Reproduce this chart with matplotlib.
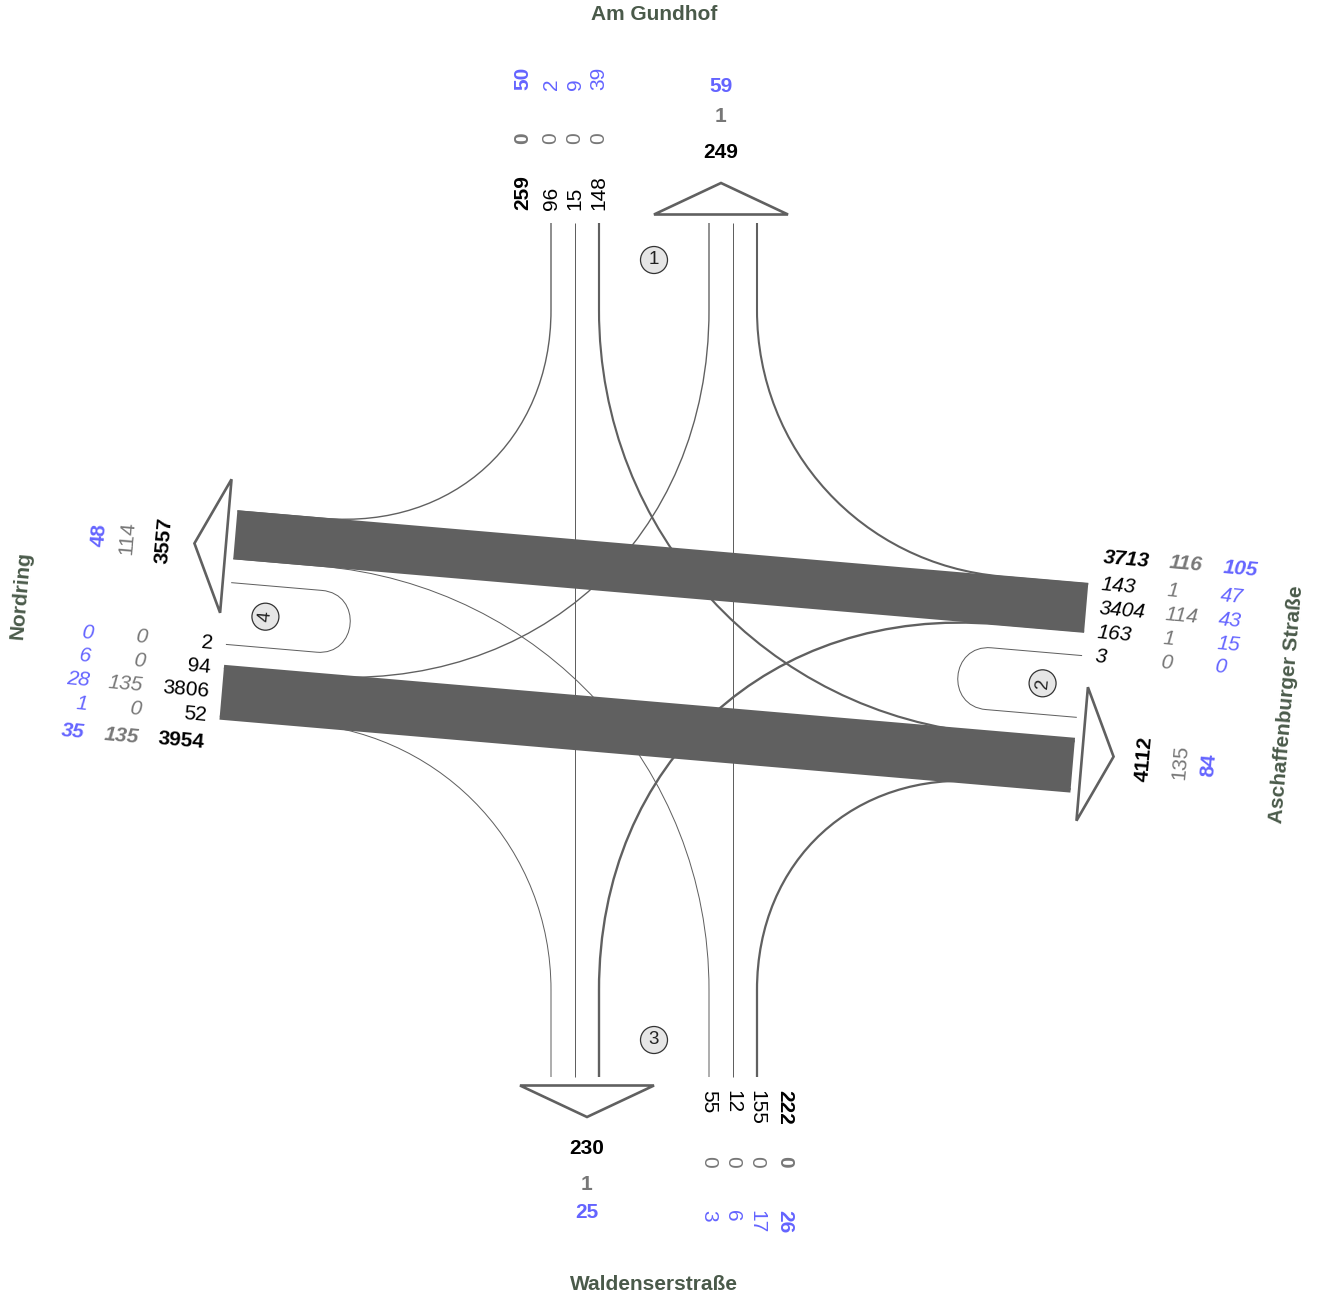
import matplotlib
matplotlib.use("Agg")
import matplotlib.pyplot as plt
from matplotlib.path import Path
from matplotlib.patches import PathPatch, Polygon, Circle
import numpy as np

# arms clockwise: north, east, south, west
arm_names = ["Am Gundhof", "Aschaffenburger Straße", "Waldenserstraße", "Nordring"]
arm_ids = ["1", "2", "3", "4"]

# per arm, lanes ordered: right turn, straight, left turn, u-turn
cars_n = [96, 15, 148]
cars_e = [143, 3404, 163, 3]
cars_s = [155, 12, 55]
cars_w = [52, 3806, 94, 2]

heavy_n = [0, 0, 0]
heavy_e = [1, 114, 1, 0]
heavy_s = [0, 0, 0]
heavy_w = [0, 135, 0, 0]

bikes_n = [2, 9, 39]
bikes_e = [47, 43, 15, 0]
bikes_s = [17, 6, 3]
bikes_w = [1, 28, 6, 0]

cars = [cars_n, cars_e, cars_s, cars_w]
heavy = [heavy_n, heavy_e, heavy_s, heavy_w]
bikes = [bikes_n, bikes_e, bikes_s, bikes_w]

# ---- layout (pixels) ----
W, H = 1323, 1298
C = np.array([654.0, 650.0])
TILT = 4.9                      # east-west road is slightly rotated
LANE_LAT = [103, 79, 55, 31]
TOTAL_LAT = 131
D_STUB, D_TURN, D_UTURN = 427, 340, 336
PX_PER_VEH = 0.01445
TURN_TO = [-1, 2, 1, 0]         # right, straight, left, u-turn
FS = 15

FLOW = "#606060"
GREY = "#777777"
BLUE = "#6464ff"
NAME = "#4a5a4a"

th = np.radians(TILT)
u = np.array([np.cos(th), np.sin(th)])
n = np.array([-np.sin(th), np.cos(th)])
A = [np.array([0.0, -1.0]), u, np.array([0.0, 1.0]), -u]      # outward
B = [np.array([-1.0, 0.0]), -n, np.array([1.0, 0.0]), n]      # side of incoming lanes
in_rot = [90, -TILT, -90, -TILT]
perp_rot = [0, 90 - TILT, 0, 90 - TILT]


def pt(i, dist, lat):
    return C + dist * A[i] + lat * B[i]


plt.rcParams['font.family'] = ['Liberation Sans', 'DejaVu Sans']
fig = plt.figure(figsize=(W / 100, H / 100), dpi=100)
ax = fig.add_axes([0, 0, 1, 1])
ax.set_xlim(0, W)
ax.set_ylim(H, 0)
ax.axis('off')

# ---- flows ----
out_tot = [[0, 0, 0] for _ in range(4)]
for i in range(4):
    for k, v in enumerate(cars[i]):
        j = (i + TURN_TO[k]) % 4
        out_tot[j][0] += v
        out_tot[j][1] += heavy[i][k]
        out_tot[j][2] += bikes[i][k]
        lat = LANE_LAT[k]
        pa = pt(i, D_STUB, lat)
        pb = pt(j, D_STUB, -lat)
        if k == 1:
            verts = [pa, pb]
            codes = [Path.MOVETO, Path.LINETO]
        else:
            d = D_UTURN if k == 3 else D_TURN
            p0 = pt(i, d, lat)
            p3 = pt(j, d, -lat)
            if k == 3:
                kk = 4 / 3 * lat
                p1 = p0 - A[i] * kk
                p2 = p3 - A[j] * kk
            else:
                d0, d3 = -A[i], A[j]
                lam, mu = np.linalg.solve(np.column_stack([d0, d3]), p3 - p0)
                p1 = p0 + 0.57 * lam * d0
                p2 = p3 - 0.57 * mu * d3
            verts = [pa, p0, p1, p2, p3, pb]
            codes = [Path.MOVETO, Path.LINETO, Path.CURVE4, Path.CURVE4,
                     Path.CURVE4, Path.LINETO]
        w = max(v * PX_PER_VEH, 1.0) * 0.72
        ax.add_patch(PathPatch(Path(verts, codes), fill=False, ec=FLOW, lw=w,
                               capstyle='butt', joinstyle='round'))

# ---- exit arrows, junction markers, names ----
for i in range(4):
    tri = [pt(i, 435.5, 0), pt(i, 467, -67), pt(i, 435.5, -134)]
    ax.add_patch(Polygon(tri, closed=True, fc='white', ec=FLOW, lw=1.9,
                         joinstyle='miter'))
    cx, cy = pt(i, 390, 0)
    ax.add_patch(Circle((cx, cy), 13.5, fc='#e6e6e6', ec='#333333', lw=0.9))
    ax.text(cx, cy, arm_ids[i], rotation=perp_rot[i], rotation_mode='anchor',
            ha='center', va='center', fontsize=13.5, color='#222222')
    x, y = pt(i, 635, 0)
    ax.text(x, y, arm_names[i], rotation=perp_rot[i], rotation_mode='anchor',
            ha='center', va='center', fontsize=FS, fontweight='bold', color=NAME)

# ---- incoming labels ----
rows = [(cars, 'black', 440), (heavy, GREY, 506), (bikes, BLUE, 560)]
for i in range(4):
    ha = 'right' if i == 3 else 'left'
    for r, (vals, col, dist) in enumerate(rows):
        italic = i == 1 or (i == 3 and r > 0)
        items = [(LANE_LAT[k], str(v), 'normal') for k, v in enumerate(vals[i])]
        items.append((TOTAL_LAT, str(sum(vals[i])), 'bold'))
        for lat, txt, wt in items:
            x, y = pt(i, dist, lat)
            ax.text(x, y, txt, rotation=in_rot[i], rotation_mode='anchor',
                    ha=ha, va='center', fontsize=FS, color=col, fontweight=wt,
                    fontstyle='italic' if italic else 'normal')

# ---- outgoing labels ----
out_rows = [(0, 'black', 498, 'bold'), (1, GREY, 534, 'bold'), (2, BLUE, 563, 'bold')]
for j in range(4):
    for idx, col, dist, wt in out_rows:
        if idx == 1 and j in (1, 3):
            wt = 'normal'
        x, y = pt(j, dist, -67)
        ax.text(x, y, str(out_tot[j][idx]), rotation=perp_rot[j],
                rotation_mode='anchor', ha='center', va='center',
                fontsize=FS, color=col, fontweight=wt)

fig.savefig("out.png", dpi=100)
